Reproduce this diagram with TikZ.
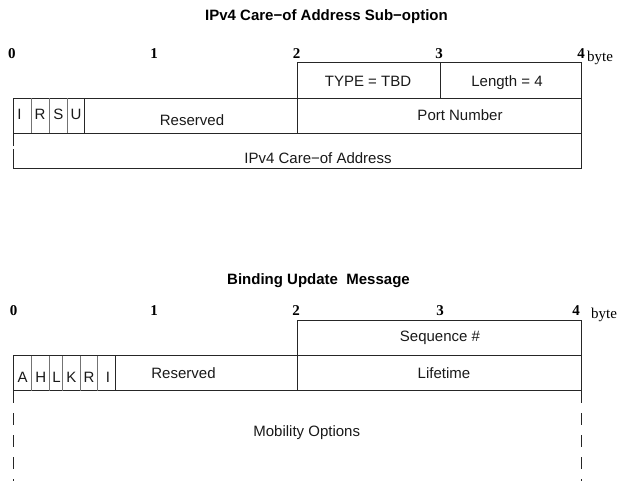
\documentclass[tikz,border=0pt]{standalone}
\usepackage{fontspec}
\setmainfont{Liberation Serif}
\setsansfont{Liberation Sans}
\begin{document}
\begin{tikzpicture}[x=1pt,y=-1pt,
  frame/.style={draw=black!85,line width=0.9pt},
  flagline/.style={draw=black!55,line width=0.9pt},
  dashline/.style={draw=black!85,line width=0.9pt,dash pattern=on 12pt off 10pt},
  lbl/.style={font=\sffamily\fontsize{15}{18}\selectfont,inner sep=0pt,text=black!90},
  ttl/.style={font=\sffamily\bfseries\fontsize{15}{18}\selectfont,inner sep=0pt},
  num/.style={font=\rmfamily\bfseries\fontsize{15}{18}\selectfont,inner sep=0pt},
  unitlbl/.style={font=\rmfamily\fontsize{15}{18}\selectfont,inner sep=0pt}]
\useasboundingbox (0,0) rectangle (617,481);

% ---------- top diagram ----------
\node[ttl] (t1) at (326.5,17) {IPv4 Care\textminus of Address Sub\textminus option};
\node[num] (a0) at (12,53.3) {0};
\node[num] (a1) at (154,53.3) {1};
\node[num] (a2) at (296.5,53.3) {2};
\node[num] (a3) at (439,53.3) {3};
\node[num] (a4) at (581,53.3) {4};
\node[unitlbl] (ab) at (600,58) {byte};

\draw[frame] (297.5,98.5) -- (297.5,62.5) -- (581.5,62.5) -- (581.5,168.5) -- (13.5,168.5) -- (13.5,149);
\draw[frame] (13.5,146) -- (13.5,98.5) -- (581.5,98.5);
\draw[frame] (13.5,133.5) -- (581.5,133.5);
\draw[frame] (440,62.5) -- (440,98.5);
\draw[frame] (297.5,98.5) -- (297.5,133.5);
\draw[frame] (84.5,98.5) -- (84.5,133.5);
\foreach \xx in {31.5,49.5,67} \draw[flagline] (\xx,98.5) -- (\xx,133.5);

\node[lbl] (type) at (368,81.7) {TYPE = TBD};
\node[lbl] (len) at (507,82.5) {Length = 4};
\node[lbl] (fI) at (19.5,114.5) {I};
\node[lbl] (fR) at (40,114.5) {R};
\node[lbl] (fS) at (58.3,114.5) {S};
\node[lbl] (fU) at (76,114.5) {U};
\node[lbl] (res1) at (192,120) {Reserved};
\node[lbl] (port) at (460,115) {Port Number};
\node[lbl] (coa) at (318,158.5) {IPv4 Care\textminus of Address};

% ---------- bottom diagram ----------
\node[ttl] (t2) at (318.5,280.5) {Binding Update\ \ Message};
\node[num] (b0) at (13.5,310.5) {0};
\node[num] (b1) at (154,310.5) {1};
\node[num] (b2) at (296,310.5) {2};
\node[num] (b3) at (440,310.5) {3};
\node[num] (b4) at (576,310.5) {4};
\node[unitlbl] (bb) at (604,315) {byte};

\draw[frame] (297.5,390.5) -- (297.5,320) -- (581.5,320) -- (581.5,390.5);
\draw[frame] (13.5,390.5) -- (13.5,355.5) -- (581.5,355.5);
\draw[frame] (13.5,390.5) -- (581.5,390.5);
\draw[frame] (115.5,355.5) -- (115.5,390.5);
\foreach \xx in {31.5,49.5,62.5,80,97.5} \draw[flagline] (\xx,355.5) -- (\xx,390.5);
\draw[dashline] (13.5,391) -- (13.5,481);
\draw[dashline] (581.5,391) -- (581.5,481);

\node[lbl] (seq) at (440,337.5) {Sequence \#};
\node[lbl] (gA) at (22.7,377) {A};
\node[lbl] (gH) at (40.7,377) {H};
\node[lbl] (gL) at (56.5,377) {L};
\node[lbl] (gK) at (71.5,377) {K};
\node[lbl] (gR) at (89,377) {R};
\node[lbl] (gI) at (108,377) {I};
\node[lbl] (res2) at (183.5,372.7) {Reserved};
\node[lbl] (life) at (444,373) {Lifetime};
\node[lbl] (mob) at (306.7,433) {Mobility Options};
\end{tikzpicture}
\end{document}
